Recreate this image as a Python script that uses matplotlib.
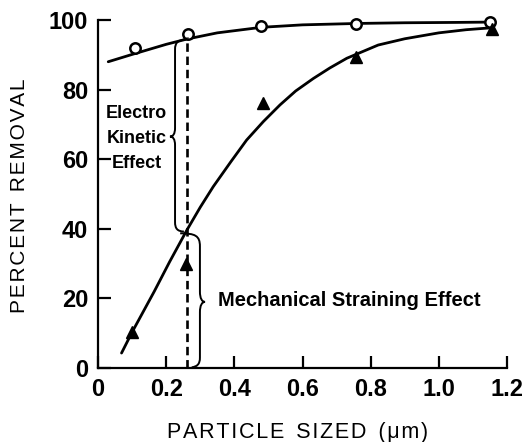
import matplotlib
matplotlib.use("Agg")
import matplotlib.pyplot as plt
from matplotlib.path import Path
from matplotlib.patches import PathPatch

plt.rcParams['font.family'] = ['Liberation Sans', 'DejaVu Sans']

# measured points
size_circ = [0.109, 0.263, 0.478, 0.756, 1.150]
rem_circ = [92.0, 95.9, 98.3, 98.9, 99.3]
size_tri = [0.101, 0.257, 0.485, 0.757, 1.155]
rem_tri = [10.4, 29.9, 76.1, 89.5, 97.3]

# hand drawn curves
up_x = [0.03, 0.10, 0.20, 0.26, 0.35, 0.48, 0.60, 0.76, 0.90, 1.05, 1.16]
up_y = [88.0, 90.1, 93.0, 94.5, 96.3, 97.9, 98.6, 99.0, 99.2, 99.3, 99.4]
low_x = [0.069, 0.10, 0.165, 0.21, 0.26, 0.30, 0.338, 0.39, 0.436, 0.485, 0.534,
         0.58, 0.632, 0.68, 0.73, 0.822, 0.90, 1.00, 1.08, 1.16]
low_y = [4.3, 10.3, 22.0, 30.5, 39.5, 46.2, 52.1, 59.3, 65.5, 70.8, 75.6,
         79.6, 83.2, 86.2, 89.0, 92.8, 94.6, 96.3, 97.2, 97.8]

cut_x = 0.26
cut_top = 95.0

xticks = [0, 0.2, 0.4, 0.6, 0.8, 1.0, 1.2]
xtick_labels = ['0', '0.2', '0.4', '0.6', '0.8', '1.0', '1.2']
yticks = [0, 20, 40, 60, 80, 100]

fig = plt.figure(figsize=(5.25, 4.42), dpi=100)
ax = fig.add_axes([0.1867, 0.1674, 0.779, 0.7874])

ax.plot(up_x, up_y, color='black', lw=2.0, solid_capstyle='round')
ax.plot(low_x, low_y, color='black', lw=2.0, solid_capstyle='round')
ax.plot(size_circ, rem_circ, 'o', ms=7.5, mfc='white', mec='black', mew=1.8, clip_on=False)
ax.plot(size_tri, rem_tri, '^', ms=8.5, color='black', clip_on=False)
ax.plot([cut_x, cut_x], [0, cut_top], color='black', lw=1.9, dashes=(3.2, 1.8))


def brace(verts):
    codes = [Path.MOVETO] + [Path.CURVE4] * 3 + [Path.LINETO] + [Path.CURVE4] * 6 \
        + [Path.LINETO] + [Path.CURVE4] * 3
    ax.add_patch(PathPatch(Path(verts, codes), fc='none', ec='black', lw=1.4))


# electro kinetic brace (tip to the left)
brace([(0.258, 94.4), (0.235, 94.2), (0.226, 93.6), (0.226, 91.5),
       (0.226, 69.0),
       (0.226, 67.2), (0.220, 66.5), (0.211, 66.5),
       (0.220, 66.5), (0.226, 65.8), (0.226, 64.0),
       (0.226, 42.0),
       (0.226, 40.0), (0.233, 39.3), (0.252, 39.2)])
# mechanical straining brace (tip to the right)
brace([(0.241, 38.7), (0.285, 38.7), (0.299, 38.0), (0.299, 35.0),
       (0.299, 22.0),
       (0.299, 20.0), (0.305, 19.0), (0.314, 19.0),
       (0.305, 19.0), (0.299, 18.0), (0.299, 16.0),
       (0.299, 3.0),
       (0.299, 1.0), (0.290, 0.4), (0.275, 0.2)])

ax.text(0.113, 66.0, 'Electro\nKinetic\nEffect', ha='center', va='center',
        fontsize=13, fontweight='bold', linespacing=1.6)
ax.text(0.352, 19.5, 'Mechanical Straining Effect', ha='left', va='center',
        fontsize=14.5, fontweight='bold')

ax.set_xlim(0, 1.2)
ax.set_ylim(0, 100)
ax.set_xticks(xticks)
ax.set_xticklabels(xtick_labels)
ax.set_yticks(yticks)
ax.spines['top'].set_visible(False)
ax.spines['right'].set_visible(False)
for s in ('left', 'bottom'):
    ax.spines[s].set_linewidth(1.6)
ax.tick_params(direction='in', length=9, width=1.6, labelsize=17, pad=7)
for lab in ax.get_xticklabels() + ax.get_yticklabels():
    lab.set_fontweight('bold')

hair = '\u200a'
ax.set_ylabel(hair.join('PERCENT') + '  ' + hair.join('REMOVAL'), fontsize=15)
ax.set_xlabel(hair.join('PARTICLE') + '  ' + hair.join('SIZED') + '  ' + hair.join('(μm)'),
              fontsize=15.5)
ax.yaxis.set_label_coords(-0.191, 0.494)
ax.xaxis.set_label_coords(0.487, -0.184)
ax.xaxis.label.set_va('center')
ax.yaxis.label.set_va('center')

fig.savefig('out.png', dpi=100)
